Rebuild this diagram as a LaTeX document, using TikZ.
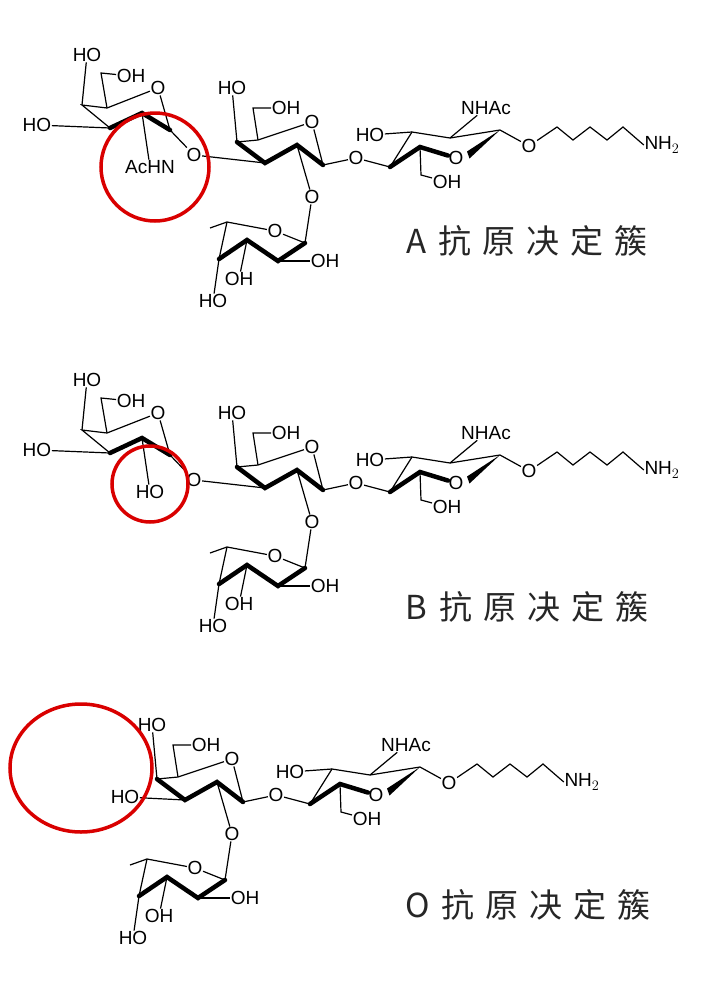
\documentclass[tikz,border=0pt]{standalone}
\usepackage{fontspec}
\setmainfont{Liberation Sans}
\newfontfamily\cjk{Noto Sans CJK SC}
\usetikzlibrary{calc}
\tikzset{
 lbl/.style={font=\fontsize{19}{19}\selectfont,inner sep=0.5pt},
 bd/.style={line width=1.2pt},
 bb/.style={line width=4.5pt,line cap=round},
 ring/.style={draw=red!85!black,line width=3.5pt},
 ttl/.style={font=\cjk\fontsize{33}{33}\selectfont,text=black!85,inner sep=0pt}
}
\newcommand\corepart{%
 % middle Gal
 \coordinate (G4) at (237,142); \coordinate (G5) at (258,140);
 \node[lbl] (GO) at (312,122) {O};
 \coordinate (G1) at (323,165); \coordinate (G2) at (297,145); \coordinate (G3) at (265,163);
 \node[lbl] (GHO) at (232,88) {HO};
 \node[lbl] (GOH) at (286,108) {OH};
 \draw[bd] (G4)--(G5)--(GO)--(G1);
 \draw[bb] (G4)--(G3)--(G2)--(G1);
 \draw[bd] (G4)--(GHO);
 \draw[bd] (G5)--(253,108)--(GOH);
 \node[lbl] (GX) at (356,158) {O};
 \draw[bd] (G1)--(GX);
 \node[lbl] (GF) at (312,197) {O};
 \draw[bd] (G2)--(GF);
 % Fuc
 \coordinate (F5) at (227,222); \node[lbl] (FO) at (275,231) {O};
 \coordinate (F1) at (305,243); \coordinate (F2) at (278,261);
 \coordinate (F3) at (247,240); \coordinate (F4) at (219,259);
 \coordinate (FM) at (210,228);
 \draw[bd] (FM)--(F5)--(FO)--(F1); \draw[bd] (F5)--(F4);
 \draw[bb] (F4)--(F3)--(F2)--(F1);
 \draw[bd] (F1)--(GF);
 \node[lbl] (F2OH) at (325,261) {OH};
 \node[lbl] (F3OH) at (239,279) {OH};
 \node[lbl] (F4HO) at (213,301) {HO};
 \draw[bd] (F2)--(F2OH); \draw[bd] (F3)--(F3OH); \draw[bd] (F4)--(F4HO);
 % GlcNAc
 \coordinate (N4) at (390,167); \coordinate (N3) at (412,132);
 \coordinate (N2) at (450,138); \coordinate (N1) at (500,130);
 \coordinate (N5) at (420,147); \node[lbl] (NO) at (456,158) {O};
 \coordinate (NOw) at (468,155);
 \draw[bd] (GX)--(N4)--(N3)--(N2)--(N1);
 \draw[bb] (N4)--(N5)--(NO);
 \fill ($(NOw)+(-1,-3.5)$)--(N1)--($(NOw)+(1.5,3.5)$)--cycle;
 \node[lbl] (NHO) at (370,135) {HO};
 \draw[bd] (N3)--(NHO);
 \node[lbl] (NOH) at (447,182) {OH};
 \draw[bd] (N5)--(421,175)--(NOH);
 \node[lbl] (NAc) at (486,108) {NHAc};
 \draw[bd] (N2)--(NAc);
 \node[lbl] (NX) at (529,146) {O};
 \node[lbl] (NH) at (662,145) {NH$_2$};
 \coordinate (z1) at (557,127); \coordinate (z2) at (573,140);
 \coordinate (z3) at (590,127); \coordinate (z4) at (607,140);
 \coordinate (z5) at (623,127); \coordinate (z6) at (638,140);
 \draw[bd] (N1)--(NX)--(z1)--(z2)--(z3)--(z4)--(z5)--(z6)--(NH.west);
}
\newcommand\leftgal[1]{%
 \coordinate (L4) at (82,105); \coordinate (L5) at (107,108);
 \node[lbl] (LO) at (158,88) {O};
 \coordinate (L1) at (170,130); \coordinate (L2) at (142,113); \coordinate (L3) at (110,128);
 \node[lbl] (LHO) at (87,55) {HO};
 \node[lbl] (LOH) at (131,76) {OH};
 \node[lbl] (LHO3) at (37,125) {HO};
 \draw[bd] (L3)--(L4)--(L5)--(LO)--(L1);
 \draw[bb] (L3)--(L2)--(L1);
 \draw[bd] (L4)--(LHO); \draw[bd] (L5)--(101,73)--(LOH); \draw[bd] (L3)--(LHO3);
 \node[lbl] (LN) at (150,167) {#1};
 \draw[bd] (L2)--(LN);
 \node[lbl] (LX) at (194,155) {O};
 \draw[bd] (L1)--(LX)--(G3);
}
\begin{document}
\begin{tikzpicture}[x=1pt,y=-1pt]
\useasboundingbox (0,0) rectangle (720,983);
\fill[white] (0,0) rectangle (720,983);
\begin{scope}[name prefix=A-]
 \corepart \leftgal{AcHN}
\end{scope}
\draw[ring] (155,167) circle (54);
\node[ttl] (tA) at (527,241) {A\hspace{12pt}抗\hspace{11pt}原\hspace{11pt}决\hspace{11pt}定\hspace{11pt}簇};
\begin{scope}[shift={(0,325)},name prefix=B-]
 \corepart \leftgal{HO}
\end{scope}
\draw[ring] (150,484) circle (38);
\node[ttl] (tB) at (527,607) {B\hspace{12pt}抗\hspace{11pt}原\hspace{11pt}决\hspace{11pt}定\hspace{11pt}簇};
\begin{scope}[shift={(-80,637)},name prefix=O-]
 \corepart
 \node[lbl] (OHO) at (205,160) {HO};
 \draw[bd] (OHO)--(G3);
\end{scope}
\draw[ring] (81,768) ellipse (71 and 64);
\node[ttl] (tO) at (528,905) {O\hspace{12pt}抗\hspace{11pt}原\hspace{11pt}决\hspace{11pt}定\hspace{11pt}簇};
\end{tikzpicture}
\end{document}
